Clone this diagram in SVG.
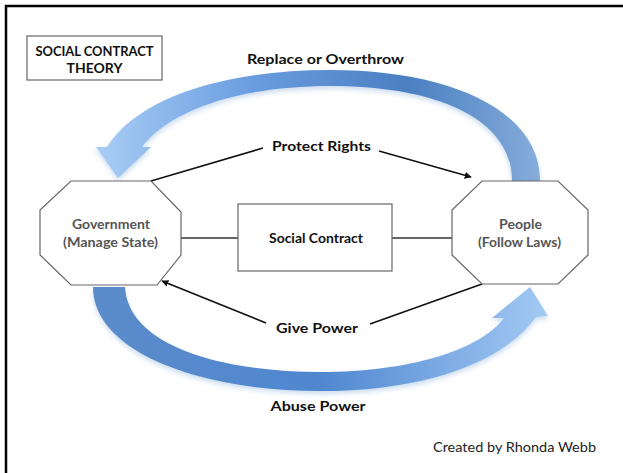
<svg xmlns="http://www.w3.org/2000/svg" width="623" height="473" viewBox="0 0 623 473">
<style>
.lbl{font-family:Lato,"Liberation Sans",sans-serif;font-weight:bold;fill:#111;font-size:14px}
.node{font-family:Lato,"Liberation Sans",sans-serif;font-weight:bold;fill:#555;font-size:13.5px}
.oct{fill:#fff;stroke:#666;stroke-width:1.2}
.box{fill:#fff;stroke:#666;stroke-width:1.2}
.ln{stroke:#111;stroke-width:1.6;fill:none}
.cn{stroke:#333;stroke-width:1.5;fill:none}
</style>
<defs>
<marker id="ah" viewBox="0 0 10 10" refX="9" refY="5" markerWidth="7" markerHeight="7" markerUnits="userSpaceOnUse" orient="auto">
<path d="M0,0 L10,5 L0,10 z" fill="#111"/>
</marker>
<linearGradient id="gTop" gradientUnits="userSpaceOnUse" x1="96" y1="0" x2="540" y2="0">
<stop offset="0" stop-color="#a9cdf5"/>
<stop offset="0.35" stop-color="#6a9de0"/>
<stop offset="0.7" stop-color="#4a7fc1"/>
<stop offset="1" stop-color="#86acdb"/>
</linearGradient>
<linearGradient id="gBot" gradientUnits="userSpaceOnUse" x1="95" y1="0" x2="546" y2="0">
<stop offset="0" stop-color="#5b8bca"/>
<stop offset="0.5" stop-color="#4f87d0"/>
<stop offset="1" stop-color="#a3c9f4"/>
</linearGradient>
<filter id="sh" x="-10%" y="-10%" width="120%" height="130%">
<feGaussianBlur stdDeviation="2.5"/>
</filter>
</defs>
<rect width="623" height="473" fill="#fff"/>
<path d="M6,473 V6 H623" fill="none" stroke="#000" stroke-width="2.5"/>

<g id="title">
<rect class="box" x="27" y="36" width="135" height="44" stroke="#777"/>
<text class="lbl" x="94.5" y="56" text-anchor="middle" textLength="118" lengthAdjust="spacingAndGlyphs" font-size="13.5">SOCIAL CONTRACT</text>
<text class="lbl" x="94.5" y="73" text-anchor="middle" textLength="56" lengthAdjust="spacingAndGlyphs" font-size="13.5">THEORY</text>
</g>

<g id="arcs">
<path d="M540,181 C540,110 450,70 330,70 C230,70 140,95 107,147 L96,147 L118,178 L151,147 L142,147 C170,110 240,86 330,86 C440,86 512,120 512,181 Z" fill="#9bbbe0" opacity="0.5" filter="url(#sh)" transform="translate(0,3)"/>
<path id="arcTop" d="M540,181 C540,110 450,70 330,70 C230,70 140,95 107,147 L96,147 L118,178 L151,147 L142,147 C170,110 240,86 330,86 C440,86 512,120 512,181 Z" fill="url(#gTop)"/>
<path d="M93,287 C93,352 200,391 320,391 C430,391 505,360 536,317 L548,316 L530,287 L492,318 L504,318 C480,350 410,372 320,372 C220,372 128,345 125,287 Z" fill="#9bbbe0" opacity="0.5" filter="url(#sh)" transform="translate(0,3)"/>
<path id="arcBot" d="M93,287 C93,352 200,391 320,391 C430,391 505,360 536,317 L548,316 L530,287 L492,318 L504,318 C480,350 410,372 320,372 C220,372 128,345 125,287 Z" fill="url(#gBot)"/>
</g>

<g id="connectors">
<path class="ln" d="M151,181 L263,148"/>
<path class="ln" d="M379,151 L471,177" marker-end="url(#ah)"/>
<path class="ln" d="M266,323 L162,281" marker-end="url(#ah)"/>
<path class="ln" d="M370,324 L482,284"/>
<path class="cn" d="M181,238 H238"/>
<path class="cn" d="M392,238 H452"/>
</g>

<g id="government">
<polygon class="oct" points="71,181 151,181 181,212 181,255 157,285 71,285 40,255 40,210"/>
<text class="node" x="111" y="229" text-anchor="middle" textLength="78" lengthAdjust="spacingAndGlyphs">Government</text>
<text class="node" x="110.5" y="247" text-anchor="middle" textLength="95" lengthAdjust="spacingAndGlyphs">(Manage State)</text>
</g>

<g id="people">
<polygon class="oct" points="482,181 558,181 588,210 588,255 558,284 482,284 452,255 452,210"/>
<text class="node" x="520.5" y="229" text-anchor="middle" textLength="43" lengthAdjust="spacingAndGlyphs">People</text>
<text class="node" x="519.5" y="247" text-anchor="middle" textLength="83" lengthAdjust="spacingAndGlyphs">(Follow Laws)</text>
</g>

<g id="social-contract">
<rect class="box" x="238" y="204" width="154" height="67"/>
<text class="lbl" x="316" y="243" text-anchor="middle" textLength="94" lengthAdjust="spacingAndGlyphs">Social Contract</text>
</g>

<g id="labels">
<text class="lbl" x="325.5" y="64" text-anchor="middle" textLength="157" lengthAdjust="spacingAndGlyphs">Replace or Overthrow</text>
<text class="lbl" x="321.5" y="151" text-anchor="middle" textLength="99" lengthAdjust="spacingAndGlyphs">Protect Rights</text>
<text class="lbl" x="317" y="333" text-anchor="middle" textLength="82" lengthAdjust="spacingAndGlyphs">Give Power</text>
<text class="lbl" x="318" y="411" text-anchor="middle" textLength="95" lengthAdjust="spacingAndGlyphs">Abuse Power</text>
<text x="514.5" y="452" text-anchor="middle" textLength="163" lengthAdjust="spacingAndGlyphs" font-family="Lato,'Liberation Sans',sans-serif" font-size="13" fill="#222">Created by Rhonda Webb</text>
</g>
</svg>
